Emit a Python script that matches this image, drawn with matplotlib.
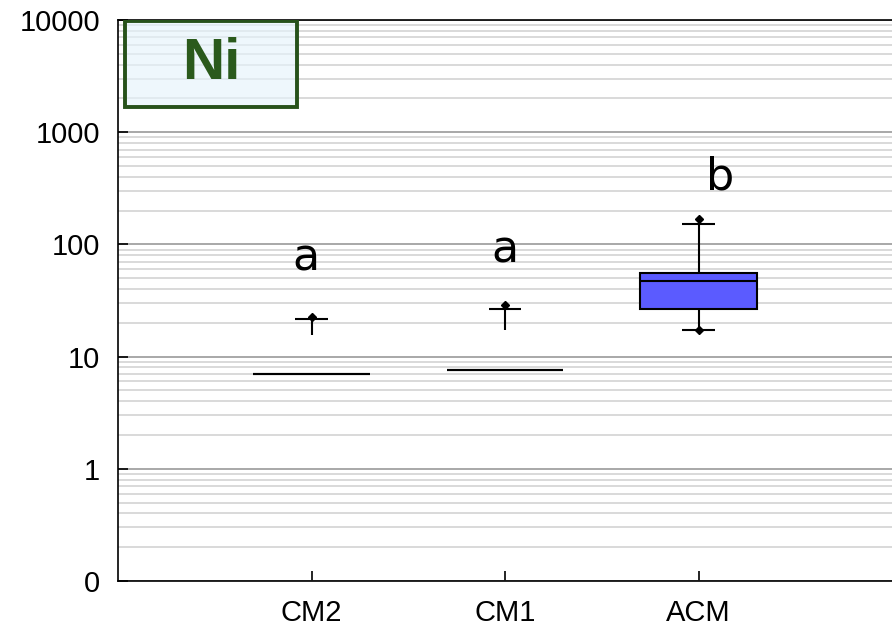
import matplotlib
matplotlib.use("Agg")
import matplotlib.pyplot as plt
import numpy as np
from matplotlib.patches import Rectangle

########## data ##########
groups = ["CM2", "CM1", "ACM"]
q1 = [7.0, 7.6, 26.5]
med = [7.0, 7.6, 46.8]
q3 = [7.0, 7.6, 56.0]
up_start = [15.7, 17.1, 56.0]     # upper whisker
up_end = [21.8, 26.8, 151.0]
low_start = [np.nan, np.nan, 26.5]  # lower whisker
low_end = [np.nan, np.nan, 17.4]
pt_max = [22.5, 29.0, 170.0]
pt_min = [np.nan, np.nan, 17.4]
letters = ["a", "a", "b"]
letter_y = [76.0, 90.0, 400.0]
letter_dx = [-0.03, 0.0, 0.11]

yticks = [0.1, 1, 10, 100, 1000, 10000]
ytick_labels = ["0", "1", "10", "100", "1000", "10000"]

fig = plt.figure(figsize=(8.92, 6.28), dpi=100)
ax = fig.add_axes([0.1323, 0.0748, 0.8677, 0.8934])

pos = np.arange(1, len(groups) + 1)
w = 0.6
cap = 0.17
lw = 1.5

# boxes
ax.bar(pos, np.array(q3) - np.array(q1), bottom=q1, width=w,
       color="#5b5bff", edgecolor="black", linewidth=lw, zorder=3)
ax.hlines(med, pos - w / 2, pos + w / 2, color="black", linewidth=lw, zorder=4)

# whiskers + caps
ax.vlines(pos, up_start, up_end, color="black", linewidth=lw, zorder=3)
ax.hlines(up_end, pos - cap / 2, pos + cap / 2, color="black", linewidth=lw, zorder=3)
ax.vlines(pos, low_start, low_end, color="black", linewidth=lw, zorder=3)
ax.hlines(low_end, pos - cap / 2, pos + cap / 2, color="black", linewidth=lw, zorder=3)

# extreme points
ax.plot(pos, pt_max, "D", color="black", markersize=4.5, zorder=5)
ax.plot(pos, pt_min, "D", color="black", markersize=4.5, zorder=5)

for x, lab, y, dx in zip(pos, letters, letter_y, letter_dx):
    ax.text(x + dx, y, lab, ha="center", va="center", fontsize=32,
            family="DejaVu Sans", zorder=5)

ax.set_yscale("log")
ax.set_ylim(0.1, 10000)
ax.set_xlim(0, 4)
ax.set_yticks(yticks)
ax.set_yticklabels(ytick_labels)
ax.set_xticks(pos)
ax.set_xticklabels(groups)

ax.yaxis.set_minor_locator(matplotlib.ticker.LogLocator(base=10, subs=np.arange(2, 10)))
ax.yaxis.set_minor_formatter(matplotlib.ticker.NullFormatter())
ax.grid(which="major", axis="y", color="#9a9a9a", linewidth=1.2, zorder=0)
ax.grid(which="minor", axis="y", color="#d3d3d3", linewidth=1.2, zorder=0)
ax.set_axisbelow(True)

ax.tick_params(axis="y", which="major", direction="in", length=7, width=1.2,
               pad=13, labelsize=21)
ax.tick_params(axis="y", which="minor", length=0)
ax.tick_params(axis="x", direction="in", length=7, width=1.2, pad=13, labelsize=21)
for lab in ax.get_xticklabels() + ax.get_yticklabels():
    lab.set_family("Liberation Sans")

for s in ["left", "bottom", "top"]:
    ax.spines[s].set_linewidth(1.2)
ax.spines["right"].set_visible(False)

# element label box
bx, by, bw, bh = 0.009, 0.845, 0.222, 0.153
ax.add_patch(Rectangle((bx, by), bw, bh, transform=ax.transAxes,
                       facecolor="#e6f3fb", alpha=0.65, edgecolor="none", zorder=6))
ax.add_patch(Rectangle((bx, by), bw, bh, transform=ax.transAxes,
                       facecolor="none", edgecolor="#27521a", linewidth=2.8, zorder=7))
ax.text(bx + bw / 2, by + bh / 2, "Ni", transform=ax.transAxes,
        ha="center", va="center", fontsize=42, fontweight="bold",
        family="Liberation Sans", color="#2b5a1c", zorder=8)

fig.savefig("out.png", dpi=100)
